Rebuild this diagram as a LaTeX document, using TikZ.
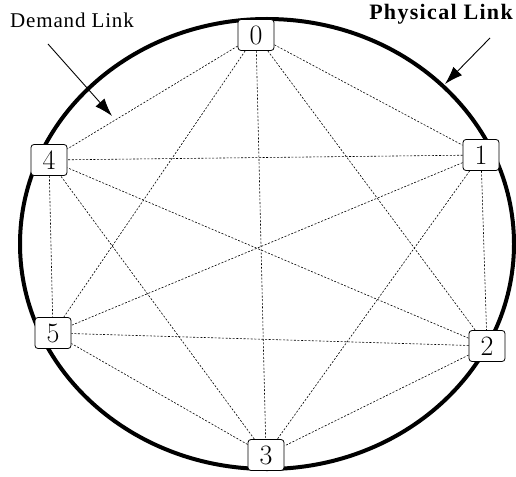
\documentclass[tikz,border=0pt]{standalone}
\usepackage{fontspec}
\newfontfamily\labelfont{Liberation Serif}
\usetikzlibrary{arrows.meta}
\tikzset{
  netnode/.style={draw, line width=0.8pt, fill=white, rounded corners=3pt,
    minimum width=36pt, minimum height=31pt, inner sep=0pt,
    font=\fontsize{28}{30}\selectfont},
  demand/.style={line width=0.6pt, dash pattern=on 2pt off 1.6pt, black},
  physical/.style={line width=4pt},
  pointer/.style={line width=0.9pt, -{Latex[length=18pt,width=12pt]}},
  lbl/.style={anchor=base, inner sep=0pt}
}
\begin{document}
\begin{tikzpicture}[x=1pt,y=-1pt]
\useasboundingbox (0,0) rectangle (516,476);
\draw[physical] (267,244) ellipse [x radius=247, y radius=225];
\node[netnode] (n0) at (256,35) {0};
\node[netnode] (n1) at (481,155) {1};
\node[netnode] (n2) at (487,346) {2};
\node[netnode] (n3) at (266,455) {3};
\node[netnode] (n4) at (49,160) {4};
\node[netnode] (n5) at (53,333) {5};
\foreach \a/\b in {n0/n1,n0/n2,n0/n3,n0/n4,n0/n5,n1/n2,n1/n3,n1/n4,n1/n5,n2/n3,n2/n4,n2/n5,n3/n4,n3/n5,n4/n5}
  \draw[demand] (\a) -- (\b);
\node[lbl, font=\labelfont\addfontfeature{LetterSpace=4}\fontsize{21}{22}\selectfont] (dl) at (72,28) {Demand Link};
\node[lbl, font=\labelfont\bfseries\addfontfeature{LetterSpace=6}\fontsize{22}{24}\selectfont] (pl) at (441,20) {Physical Link};
\coordinate (dls) at (48,44);
\coordinate (dlt) at (112,116);
\coordinate (pls) at (490,38);
\coordinate (plt) at (445,84);
\draw[pointer] (dls) -- (dlt);
\draw[pointer] (pls) -- (plt);
\end{tikzpicture}
\end{document}
